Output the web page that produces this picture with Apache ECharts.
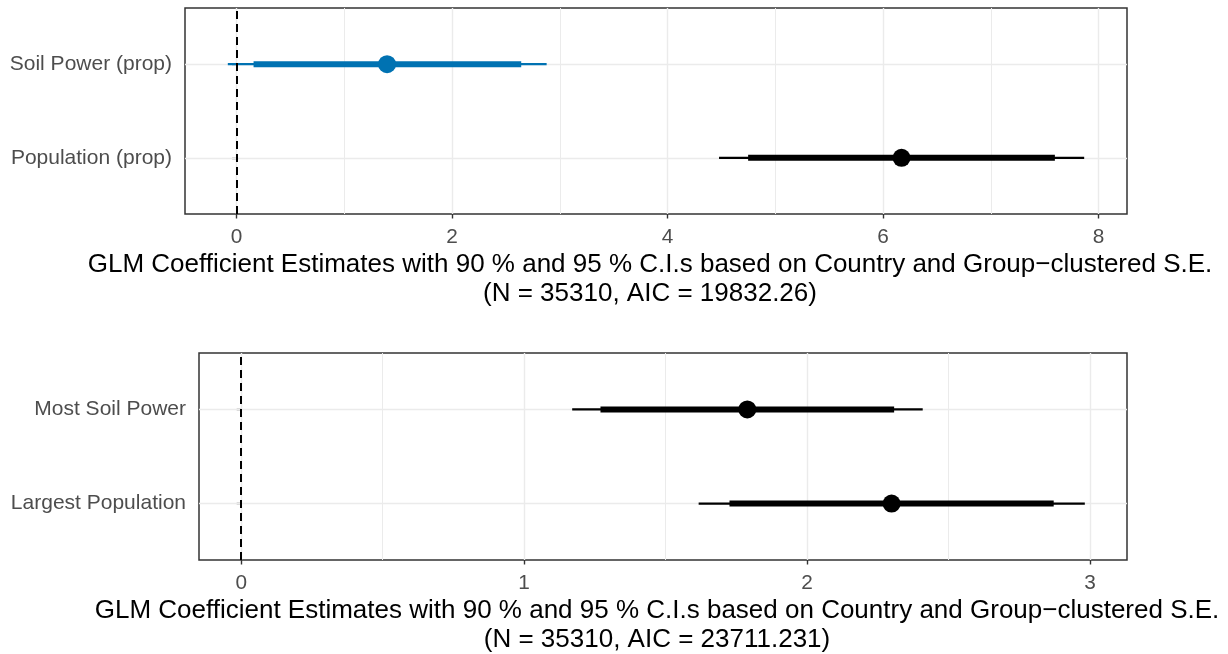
<!DOCTYPE html>
<html>
<head>
<meta charset="utf-8">
<script src="https://cdn.jsdelivr.net/npm/echarts@6/dist/echarts.min.js"></script>
<style>
  html, body { margin: 0; padding: 0; background: #ffffff; }
  #chart { width: 1228px; height: 654px; }
</style>
</head>
<body>
<div id="chart"></div>
<script>
// Coefficient plots for two GLMs: point estimate with 90 % (thick) and 95 % (thin) intervals.

// Model 1 (terms listed bottom to top)
const termsA = ['Population (prop)', 'Soil Power (prop)'];
const estA   = [6.172, 1.397];
const lo90A  = [4.748, 0.158];
const hi90A  = [7.595, 2.642];
const lo95A  = [4.478, -0.081];
const hi95A  = [7.867, 2.878];
const ticksA = [0, 2, 4, 6, 8];
const minorA = [1, 3, 5, 7];
const titleA = 'GLM Coefficient Estimates with 90 % and 95 % C.I.s based on Country and Group\u2212clustered S.E.\n(N = 35310, AIC = 19832.26)';

// Model 2 (terms listed bottom to top)
const termsB = ['Largest Population', 'Most Soil Power'];
const estB   = [2.299, 1.789];
const lo90B  = [1.726, 1.270];
const hi90B  = [2.872, 2.308];
const lo95B  = [1.617, 1.170];
const hi95B  = [2.982, 2.409];
const ticksB = [0, 1, 2, 3];
const minorB = [0.5, 1.5, 2.5];
const titleB = 'GLM Coefficient Estimates with 90 % and 95 % C.I.s based on Country and Group\u2212clustered S.E.\n(N = 35310, AIC = 23711.231)';

const colorsA = ['#000000', '#0072B2'];
const colorsB = ['#000000', '#000000'];

const FONT = "'Liberation Sans', Arial, Helvetica, sans-serif";
const GRID_COLOR = '#EBEBEB';
const INK = '#333333';

// 5 % padding around the data range (the zero reference line is included)
function paddedRange(lo, hi) {
  const a = Math.min(0, ...lo), b = Math.max(0, ...hi);
  const pad = (b - a) * 0.05;
  return [a - pad, b + pad];
}

function xAxisFor(gi, lo, hi, ticks, title) {
  const r = paddedRange(lo, hi);
  return {
    gridIndex: gi, type: 'value', min: r[0], max: r[1],
    axisLine: { show: false },
    splitLine: { show: false },
    axisTick: { show: true, customValues: ticks, length: 4.5, lineStyle: { color: INK, width: 1.4 } },
    axisLabel: { customValues: ticks, color: '#4D4D4D', fontSize: 20.8, fontFamily: FONT, margin: 13 },
    name: title, nameLocation: 'middle', nameGap: 36,
    nameTextStyle: { color: '#000000', fontSize: 26, fontFamily: FONT, lineHeight: 29, padding: [0, 12, 0, 0] }
  };
}

function yAxisFor(gi, terms) {
  const pos = terms.map((_, i) => i + 1);
  return {
    gridIndex: gi, type: 'value', min: 0.4, max: terms.length + 0.6,
    axisLine: { show: false },
    splitLine: { show: false },
    axisTick: { show: true, customValues: pos, length: 4.5, lineStyle: { color: INK, width: 1.4 } },
    axisLabel: {
      customValues: pos, color: '#4D4D4D', fontSize: 21, fontFamily: FONT, margin: 13,
      formatter: v => terms[Math.round(v) - 1] || ''
    }
  };
}

function panelSeries(gi, terms, est, lo90, hi90, lo95, hi95, colors, ticks, minor) {
  const pos = terms.map((_, i) => i + 1);
  const gridLines = [];
  ticks.forEach(v => gridLines.push({ xAxis: v, lineStyle: { width: 1.4 } }));
  minor.forEach(v => gridLines.push({ xAxis: v, lineStyle: { width: 1.0 } }));
  pos.forEach(v => gridLines.push({ yAxis: v, lineStyle: { width: 1.4 } }));
  const common = { xAxisIndex: gi, yAxisIndex: gi, animation: false, silent: true };
  const out = [
    // background grid lines
    Object.assign({
      type: 'scatter', data: [], z: 1,
      markLine: {
        z: 1, silent: true, symbol: 'none', animation: false, label: { show: false },
        lineStyle: { color: GRID_COLOR, type: 'solid' },
        data: gridLines
      }
    }, common),
    // zero reference line
    Object.assign({
      type: 'scatter', data: [], z: 4,
      markLine: {
        z: 4, silent: true, symbol: 'none', animation: false, label: { show: false },
        lineStyle: { color: '#000000', type: [8, 5], width: 2 },
        data: [{ xAxis: 0 }]
      }
    }, common)
  ];
  pos.forEach((p, i) => {
    // 95 % interval
    out.push(Object.assign({
      type: 'line', z: 3, symbol: 'none', showSymbol: false,
      data: [[lo95[i], p], [hi95[i], p]],
      lineStyle: { color: colors[i], width: 2.2, opacity: 1, cap: 'butt' }
    }, common));
    // 90 % interval
    out.push(Object.assign({
      type: 'line', z: 5, symbol: 'none', showSymbol: false,
      data: [[lo90[i], p], [hi90[i], p]],
      lineStyle: { color: colors[i], width: 6, opacity: 1, cap: 'butt' }
    }, common));
  });
  out.push(Object.assign({
    type: 'scatter', z: 6, symbol: 'circle', symbolSize: 18,
    data: pos.map((p, i) => ({ value: [est[i], p], itemStyle: { color: colors[i], opacity: 1 } }))
  }, common));
  return out;
}

const chart = echarts.init(document.getElementById('chart'), null, { renderer: 'canvas' });
chart.setOption({
  backgroundColor: '#ffffff',
  animation: false,
  textStyle: { fontFamily: FONT },
  grid: [
    { left: 185, top: 8, width: 942, height: 206, show: true, borderColor: INK, borderWidth: 1.5, backgroundColor: '#ffffff', containLabel: false, outerBoundsMode: 'none' },
    { left: 199, top: 353, width: 928, height: 207, show: true, borderColor: INK, borderWidth: 1.5, backgroundColor: '#ffffff', containLabel: false, outerBoundsMode: 'none' }
  ],
  xAxis: [
    xAxisFor(0, lo95A, hi95A, ticksA, titleA),
    xAxisFor(1, lo95B, hi95B, ticksB, titleB)
  ],
  yAxis: [
    yAxisFor(0, termsA),
    yAxisFor(1, termsB)
  ],
  series: [].concat(
    panelSeries(0, termsA, estA, lo90A, hi90A, lo95A, hi95A, colorsA, ticksA, minorA),
    panelSeries(1, termsB, estB, lo90B, hi90B, lo95B, hi95B, colorsB, ticksB, minorB)
  )
});
</script>
</body>
</html>
